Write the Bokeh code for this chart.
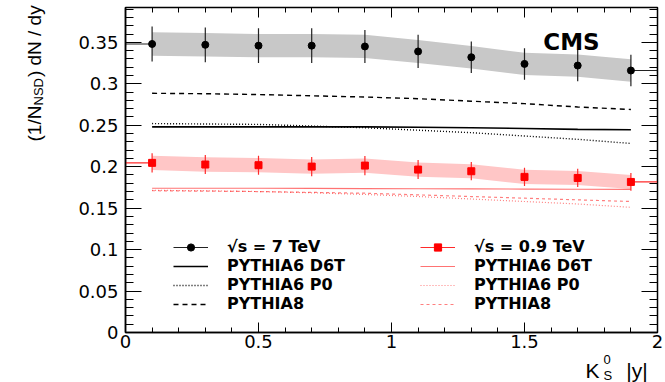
from math import pi

from bokeh.embed import file_html
from bokeh.models import (ColumnDataSource, CustomJSTickFormatter, Label, Legend,
                          LegendItem, LinearAxis, Range1d, SingleIntervalTicker,
                          TeeHead, Whisker)
from bokeh.plotting import figure
from bokeh.resources import INLINE

# K0S rapidity bins (bin centres and half width)
rap_centres = [0.1, 0.3, 0.5, 0.7, 0.9, 1.1, 1.3, 1.5, 1.7, 1.9]
rap_half_width = 0.1

# sqrt(s) = 7 TeV: data, statistical and systematic uncertainties
data_7 = [0.348, 0.347, 0.346, 0.346, 0.345, 0.339, 0.332, 0.324, 0.322, 0.316]
stat_7 = [0.021, 0.021, 0.021, 0.021, 0.020, 0.020, 0.019, 0.019, 0.019, 0.019]
syst_7 = [0.0141, 0.0141, 0.0140, 0.0140, 0.0140, 0.0138, 0.0136, 0.0134, 0.0134, 0.0137]
d6t_7 = [0.248, 0.248, 0.248, 0.248, 0.248, 0.2475, 0.247, 0.246, 0.245, 0.2445]
p0_7 = [0.252, 0.2515, 0.251, 0.249, 0.247, 0.244, 0.241, 0.237, 0.233, 0.228]
py8_7 = [0.2885, 0.288, 0.287, 0.2855, 0.284, 0.282, 0.279, 0.276, 0.272, 0.269]

# sqrt(s) = 0.9 TeV
data_09 = [0.2046, 0.2026, 0.2018, 0.2001, 0.2013, 0.1965, 0.1945, 0.1877, 0.1864, 0.1816]
stat_09 = [0.0117, 0.0115, 0.0115, 0.0115, 0.0115, 0.0115, 0.0110, 0.0110, 0.0110, 0.0107]
syst_09 = [0.0087, 0.0087, 0.0086, 0.0086, 0.0086, 0.0085, 0.0085, 0.0085, 0.0085, 0.0085]
d6t_09 = [0.174, 0.174, 0.174, 0.1738, 0.1736, 0.1734, 0.1732, 0.173, 0.1728, 0.1726]
p0_09 = [0.1715, 0.171, 0.170, 0.1685, 0.1665, 0.164, 0.161, 0.158, 0.155, 0.151]
py8_09 = [0.171, 0.1705, 0.170, 0.169, 0.168, 0.166, 0.164, 0.162, 0.160, 0.158]

legend_labels = ["\u221as = 7 TeV", "\u221as = 0.9 TeV", "PYTHIA6 D6T", "PYTHIA6 P0", "PYTHIA8"]

TICK_FONT = "DejaVu Sans"
TITLE_FONT = "Liberation Sans"

X_RANGE = (0.0, 2.0)
Y_RANGE = (0.0, 0.392)
BORDER_L, BORDER_R, BORDER_T, BORDER_B = 125, 8, 7, 50
WIDTH, HEIGHT = 665, 382
FRAME_W = WIDTH - BORDER_L - BORDER_R
FRAME_H = HEIGHT - BORDER_T - BORDER_B


def series_source(vals, stat, syst):
    return ColumnDataSource(dict(
        x=rap_centres,
        y=vals,
        ylo=[v - e for v, e in zip(vals, stat)],
        yhi=[v + e for v, e in zip(vals, stat)],
        slo=[v - e for v, e in zip(vals, syst)],
        shi=[v + e for v, e in zip(vals, syst)],
        xlo=[c - rap_half_width for c in rap_centres],
        xhi=[c + rap_half_width for c in rap_centres],
    ))


p = figure(width=WIDTH, height=HEIGHT, output_backend="svg", toolbar_location=None,
           x_range=Range1d(*X_RANGE), y_range=Range1d(*Y_RANGE),
           min_border_left=BORDER_L, min_border_right=BORDER_R,
           min_border_top=BORDER_T, min_border_bottom=BORDER_B,
           background_fill_color="white", border_fill_color="white")
p.grid.visible = False
p.outline_line_color = "black"
p.outline_line_width = 1.5

fmt = CustomJSTickFormatter(code="return (Math.round(tick*1000)/1000).toString();")
xt = SingleIntervalTicker(interval=0.5, num_minor_ticks=5)
yt = SingleIntervalTicker(interval=0.05, num_minor_ticks=5)

for ax, tick, major_len, minor_len in ((p.xaxis[0], xt, 10, 5), (p.yaxis[0], yt, 16, 8)):
    ax.ticker = tick
    ax.formatter = fmt
    ax.major_tick_in = major_len
    ax.major_tick_out = 0
    ax.minor_tick_in = minor_len
    ax.minor_tick_out = 0
    ax.axis_line_width = 1.5
    ax.major_tick_line_color = "black"
    ax.minor_tick_line_color = "black"
    ax.major_label_text_font = TICK_FONT
    ax.major_label_text_font_size = "18px"
    ax.major_label_text_color = "black"
p.xaxis[0].major_label_standoff = 2
p.yaxis[0].major_label_standoff = 7

# mirrored tick marks on the top and right edges (no labels)
mirror = dict(major_tick_out=0, minor_tick_out=0, major_label_text_font_size="0px",
              major_label_text_color=None, major_label_standoff=0)
p.add_layout(LinearAxis(ticker=SingleIntervalTicker(interval=0.5, num_minor_ticks=5),
                        major_tick_in=10, minor_tick_in=5, **mirror), "above")
p.add_layout(LinearAxis(ticker=SingleIntervalTicker(interval=0.05, num_minor_ticks=5),
                        major_tick_in=16, minor_tick_in=8, **mirror), "right")

src_7 = series_source(data_7, stat_7, syst_7)
src_09 = series_source(data_09, stat_09, syst_09)

# systematic bands
p.varea(x="x", y1="slo", y2="shi", source=src_7, fill_color="#c8c8c8")
p.varea(x="x", y1="slo", y2="shi", source=src_09, fill_color="#ffc6c6")

# model curves
BLACK = "black"
RED = "#ff0000"
k_d6t = p.line(rap_centres, d6t_7, line_color=BLACK, line_width=1.6)
k_p0 = p.line(rap_centres, p0_7, line_color=BLACK, line_width=1.4, line_dash="1 2")
k_py8 = p.line(rap_centres, py8_7, line_color=BLACK, line_width=1.4, line_dash="5 4")
r_d6t = p.line(rap_centres, d6t_09, line_color=RED, line_alpha=0.55, line_width=1.2)
r_p0 = p.line(rap_centres, p0_09, line_color=RED, line_alpha=0.5, line_width=1.2, line_dash="1 2")
r_py8 = p.line(rap_centres, py8_09, line_color=RED, line_alpha=0.5, line_width=1.2, line_dash="3 3")

# data points with error bars
black_err = p.segment(x0="x", y0="ylo", x1="x", y1="yhi", source=src_7, line_color="#222222", line_width=1.2)
red_err = p.segment(x0="x", y0="ylo", x1="x", y1="yhi", source=src_09, line_color="#ff2a2a", line_width=1.2)
for src, col in ((src_7, "#222222"), (src_09, "#ff2a2a")):
    p.add_layout(Whisker(source=src, base="y", lower="xlo", upper="xhi", dimension="width",
                         line_color=col, line_width=1.2,
                         lower_head=TeeHead(size=5, line_color=col, line_width=1.2),
                         upper_head=TeeHead(size=5, line_color=col, line_width=1.2)))
black_pts = p.scatter("x", "y", source=src_7, marker="circle", size=7, fill_color="black", line_color="black")
red_pts = p.scatter("x", "y", source=src_09, marker="square", size=7, fill_color=RED, line_color=RED)

# legends: data entry and model entries per energy, in two columns
leg_style = dict(padding=0, margin=0, spacing=0, glyph_width=35, glyph_height=18, label_height=18,
                 label_standoff=19, background_fill_alpha=0, border_line_alpha=0,
                 label_text_font=TICK_FONT, label_text_font_style="bold",
                 label_text_font_size="16px", label_text_color="black")
columns = [
    (48, (legend_labels[0], [black_err, black_pts]), [k_d6t, k_p0, k_py8]),
    (295, (legend_labels[1], [red_err, red_pts]), [r_d6t, r_p0, r_py8]),
]
for col_x, data_item, model_rs in columns:
    p.add_layout(Legend(items=[LegendItem(label=data_item[0], renderers=data_item[1])],
                        location=(col_x, 76), **leg_style))
    p.add_layout(Legend(items=[LegendItem(label=lab, renderers=[r])
                               for lab, r in zip(legend_labels[2:], model_rs)],
                        location=(col_x, 19), **leg_style))

# experiment tag
p.add_layout(Label(x=446, y=291, x_units="screen", y_units="screen", text="CMS",
                   text_align="center", text_baseline="middle", text_font=TICK_FONT,
                   text_font_style="bold", text_font_size="23px", text_color="black"))


def canvas_to_data(px, py):
    """Convert a canvas pixel position to data coordinates of the main frame."""
    x = X_RANGE[0] + (px - BORDER_L) * (X_RANGE[1] - X_RANGE[0]) / FRAME_W
    y = Y_RANGE[0] + (BORDER_T + FRAME_H - py) * (Y_RANGE[1] - Y_RANGE[0]) / FRAME_H
    return x, y


# axis titles sit in the side panels so they are drawn outside the frame
def title_piece(text, px, py, size, place, angle=0.0):
    x, y = canvas_to_data(px, py)
    p.add_layout(Label(x=x, y=y, text=text, angle=angle,
                       text_align="left", text_baseline="alphabetic",
                       text_font=TITLE_FONT, text_font_size=size, text_color="black"), place)


# (1/N_NSD) dN / dy, rotated
title_piece("(1/N" + "\u2002\u2002\u2002" + ") dN / dy", 34, 141, "19px", "left", pi / 2)
title_piece("NSD", 38, 105, "13px", "left", pi / 2)

# K0S |y|
title_piece("K" + "\u2002\u2002\u00a0" + "|y|", 585, 370, "21px", "below")
title_piece("0", 603, 359, "13px", "left")
title_piece("S", 603, 375, "13px", "left")

open("out.html", "w").write(file_html(p, INLINE))
